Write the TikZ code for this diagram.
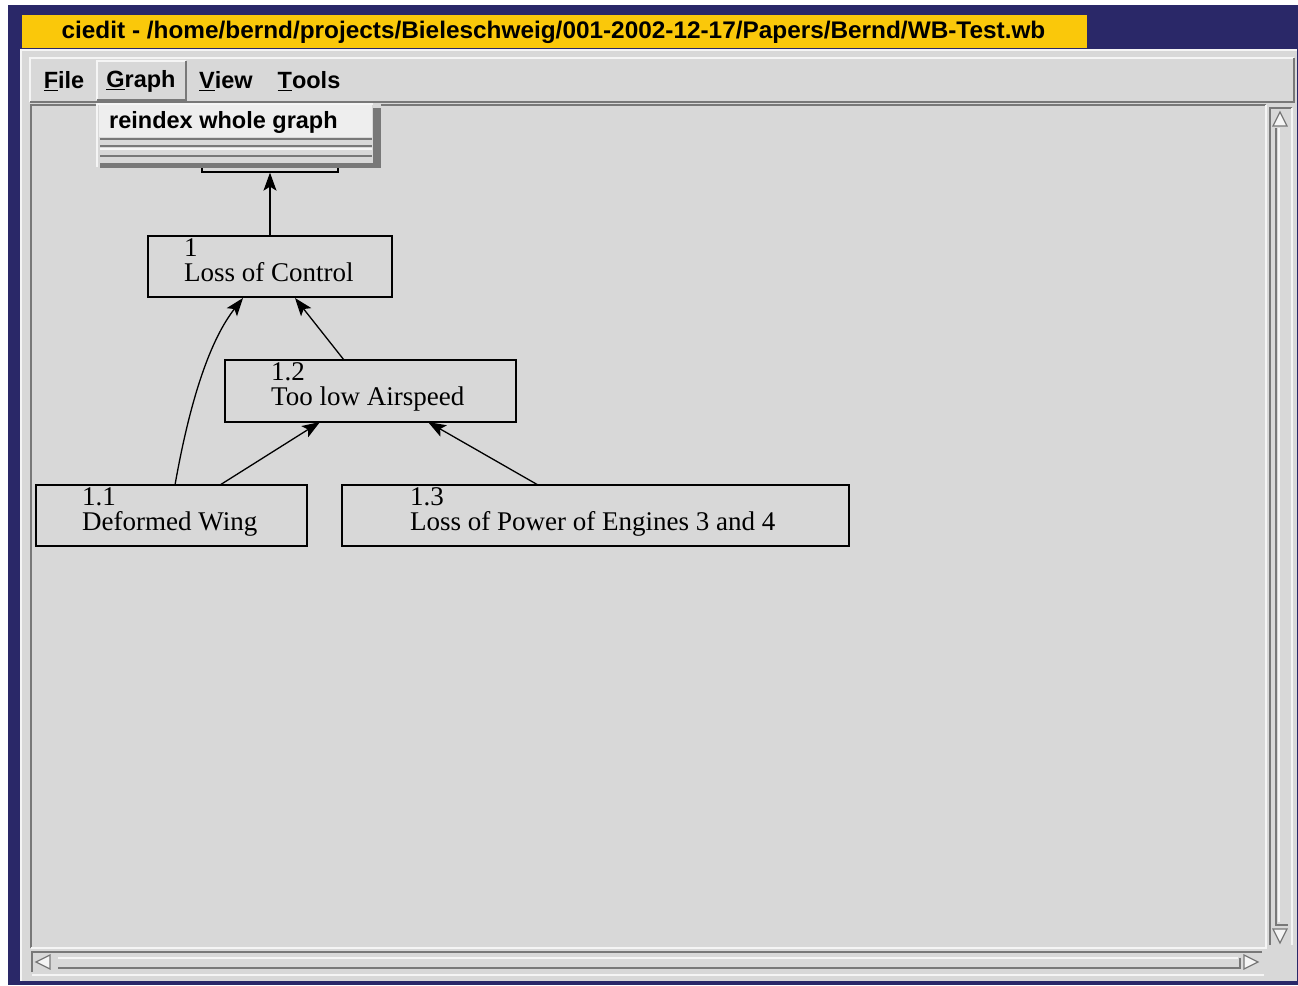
\documentclass[tikz,border=0pt]{standalone}
\usepackage{fontspec}
\setmainfont{Liberation Serif}
\newfontfamily\uisans{Liberation Sans}
\usetikzlibrary{arrows.meta}
\definecolor{navy}{RGB}{42,40,104}
\definecolor{titleyellow}{RGB}{250,200,10}
\definecolor{wingrey}{RGB}{216,216,216}
\definecolor{darkedge}{RGB}{120,120,120}
\definecolor{lightedge}{RGB}{245,245,245}
\definecolor{itemgrey}{RGB}{238,238,238}
\tikzset{
  nodebox/.style={draw=black, line width=1.3pt, fill=wingrey, rectangle, inner sep=0pt},
  nodetext/.style={anchor=north west, align=left, inner sep=0pt, font=\fontsize{27}{25}\selectfont, text=black},
  menutext/.style={font=\uisans\bfseries\fontsize{23.5}{23.5}\selectfont, inner sep=0pt, text=black},
  link/.style={line width=1.3pt, -{Stealth[length=18pt,width=13pt,inset=4pt]}},
}
\begin{document}
\begin{tikzpicture}[x=1pt,y=-1pt]
\useasboundingbox (0,0) rectangle (1298,985);
% backgrounds
\fill[white] (0,0) rectangle (1298,985);
\fill[navy] (8,5) rectangle (1298,985);
\fill[titleyellow] (22,15) rectangle (1087,48);
\node[font=\uisans\bfseries\fontsize{24}{24}\selectfont, inner sep=0pt, text=black] (title) at (553.5,32)
  {\scalebox{1.015}[1]{ciedit - /home/bernd/projects/Bieleschweig/001-2002-12-17/Papers/Bernd/WB-Test.wb}};
% window body
\fill[wingrey] (20,50) rectangle (1297,981);
\draw[lightedge, line width=2pt] (21,981) -- (21,50) -- (1297,50);
% menu bar (raised)
\draw[lightedge, line width=2pt] (30,102) -- (30,58) -- (1294,58);
\draw[darkedge, line width=2pt] (30,102) -- (1294,102) -- (1294,58);
% Graph button raised
\fill[wingrey] (97,61) rectangle (186,100);
\draw[lightedge, line width=2pt] (97,100) -- (97,61) -- (186,61);
\draw[darkedge, line width=2pt] (97,100) -- (186,100) -- (186,61);
\node[menutext] (mfile) at (64,81) {\underline{F}ile};
\node[menutext] (mgraph) at (141,81) {\underline{G}raph};
\node[menutext] (mview) at (226,81) {\underline{V}iew};
\node[menutext] (mtools) at (309,81) {\underline{T}ools};
% canvas (sunken)
\draw[darkedge, line width=2pt] (31,948) -- (31,105) -- (1266,105);
\draw[lightedge, line width=1.5pt] (31,948) -- (1266,948) -- (1266,105);
% vertical scrollbar
\draw[darkedge, line width=2pt] (1270,945) -- (1270,108) -- (1292,108);
\draw[lightedge, line width=2pt] (1292,108) -- (1292,945);
\draw[darkedge, line width=2pt] (1276,128) -- (1276,925) -- (1288,925);
\draw[lightedge, line width=1.5pt] (1279,128) -- (1279,922);
\draw[darkedge, line width=1.2pt, fill=lightedge] (1273,126) -- (1280,112) -- (1287,126) -- cycle;
\draw[darkedge, line width=1.2pt, fill=lightedge] (1273,929) -- (1280,943) -- (1287,929) -- cycle;
% horizontal scrollbar
\draw[darkedge, line width=2pt] (32,972) -- (32,952) -- (1262,952);
\draw[lightedge, line width=2pt] (32,975) -- (1264,975);
\draw[darkedge, line width=2pt] (58,968) -- (1240,968) -- (1240,958);
\draw[lightedge, line width=1.5pt] (58,958) -- (1238,958);
\draw[darkedge, line width=1.2pt, fill=lightedge] (50,955) -- (36,962) -- (50,969) -- cycle;
\draw[darkedge, line width=1.2pt, fill=lightedge] (1244,955) -- (1258,962) -- (1244,969) -- cycle;
% graph nodes
\node[nodebox, minimum width=136pt, minimum height=60pt] (n0) at (270,142) {};
\node[nodebox, minimum width=244pt, minimum height=61pt] (n1) at (270,266.5) {};
\node[nodetext] (t1) at (184,238) {1\\Loss of Control};
\node[nodebox, minimum width=291pt, minimum height=62pt] (n12) at (370.5,391) {};
\node[nodetext] (t12) at (271,362) {1.2\\Too low Airspeed};
\node[nodebox, minimum width=271pt, minimum height=61pt] (n11) at (171.5,515.5) {};
\node[nodetext] (t11) at (82,487) {1.1\\Deformed Wing};
\node[nodebox, minimum width=507pt, minimum height=61pt] (n13) at (595.5,515.5) {};
\node[nodetext] (t13) at (410,487) {1.3\\Loss of Power of Engines 3 and 4};
% connectors
\draw[link] (n1.north) -- (n0.south);
\coordinate (a11s) at (175,485);
\coordinate (a11e) at (243,298);
\coordinate (a12s) at (344,360);
\coordinate (a12e) at (295,298);
\coordinate (b11s) at (220,485);
\coordinate (b11e) at (320,422);
\coordinate (b13s) at (538,485);
\coordinate (b13e) at (428,422);
\draw[link] (a11s) .. controls (190,400) and (210,340) .. (a11e);
\draw[link] (a12s) -- (a12e);
\draw[link] (b11s) -- (b11e);
\draw[link] (b13s) -- (b13e);
% dropdown menu
\fill[wingrey] (97,103) rectangle (381,168);
\fill[darkedge] (373,108) rectangle (381,168);
\fill[darkedge] (100,163) rectangle (381,168);
\fill[itemgrey] (99,105) rectangle (372,137);
\draw[lightedge, line width=2pt] (97,167) -- (97,104) -- (373,104);
\draw[darkedge, line width=1.5pt] (100,139) -- (372,139);
\draw[darkedge, line width=1.2pt] (100,146) -- (372,146);
\draw[lightedge, line width=1.5pt] (100,149) -- (372,149);
\draw[darkedge, line width=1.2pt] (100,156) -- (372,156);
\node[menutext, anchor=west] (mreindex) at (109,122) {reindex whole graph};
\end{tikzpicture}
\end{document}
